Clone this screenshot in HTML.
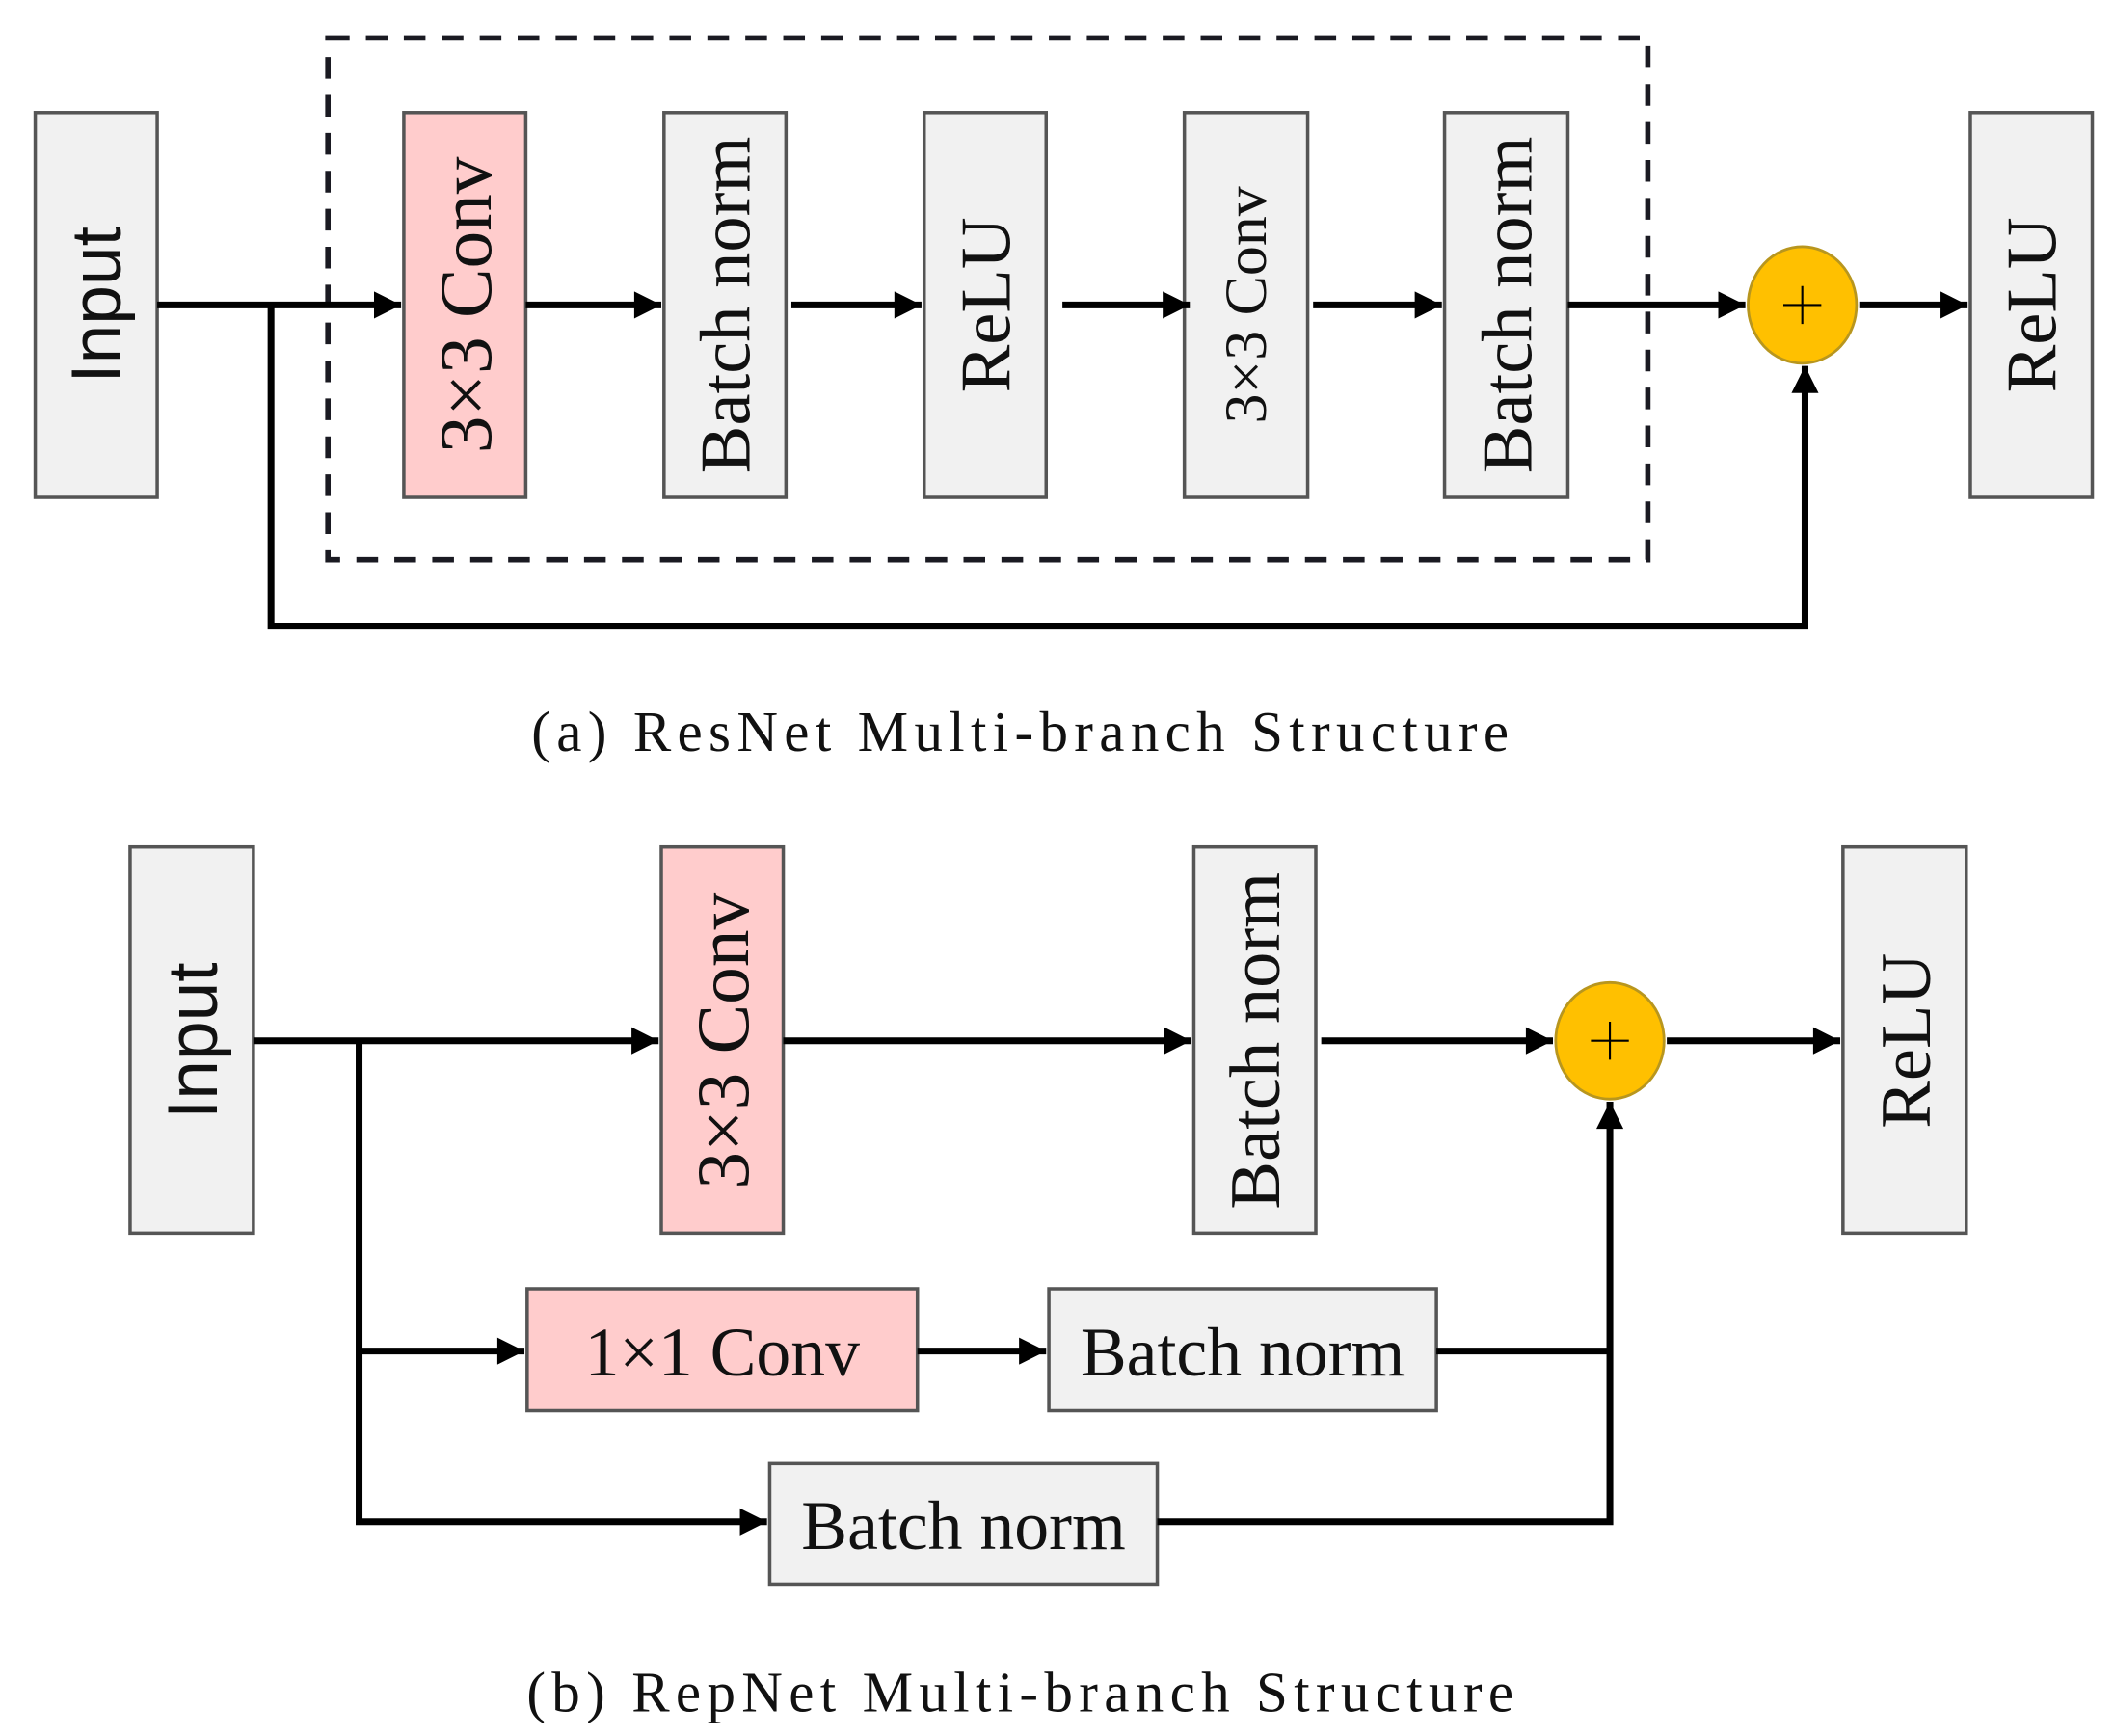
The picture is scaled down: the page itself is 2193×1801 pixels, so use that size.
<!DOCTYPE html>
<html><head><meta charset="utf-8"><style>html,body{margin:0;padding:0;background:#fff}svg{display:block}</style></head>
<body>
<svg width="2193" height="1801" viewBox="0 0 1560 1281" xmlns="http://www.w3.org/2000/svg">
<defs>
<marker id="a" viewBox="0 0 10 10" refX="10" refY="5" markerWidth="4.6" markerHeight="4" markerUnits="strokeWidth" orient="auto"><path d="M0,0 L10,5 L0,10 z" fill="#000"/></marker>
</defs>
<style>
.g{fill:#f1f1f1;stroke:#555;stroke-width:2.5}
.p{fill:#ffcccc;stroke:#555;stroke-width:2.5}
.l{stroke:#000;stroke-width:5;fill:none}
.s{font-family:"Liberation Serif",serif;fill:#111}
.ss{font-family:"Liberation Sans",sans-serif;fill:#111}
</style>
<!-- (a) -->
<rect x="242" y="28" width="974" height="385" fill="none" stroke="#1a1a22" stroke-width="4" stroke-dasharray="16,12"/>
<rect class="g" x="26" y="83" width="90" height="284"/>
<rect class="p" x="298" y="83" width="90" height="284"/>
<rect class="g" x="490" y="83" width="90" height="284"/>
<rect class="g" x="682" y="83" width="90" height="284"/>
<rect class="g" x="874" y="83" width="91" height="284"/>
<rect class="g" x="1066" y="83" width="91" height="284"/>
<rect class="g" x="1454" y="83" width="90" height="284"/>
<ellipse cx="1330" cy="225" rx="40" ry="43" fill="#ffc000" stroke="#b8961e" stroke-width="2"/>
<path d="M1316,225 H1344 M1330,211 V239" stroke="#000" stroke-width="1.5"/>
<g class="l">
<path d="M116,225 H296" marker-end="url(#a)"/>
<path d="M388,225 H488" marker-end="url(#a)"/>
<path d="M584,225 H680" marker-end="url(#a)"/>
<path d="M784,225 H878" marker-end="url(#a)"/>
<path d="M969,225 H1064" marker-end="url(#a)"/>
<path d="M1157,225 H1288" marker-end="url(#a)"/>
<path d="M1372,225 H1452" marker-end="url(#a)"/>
<path d="M200,225 V462 H1332 V270" marker-end="url(#a)"/>
</g>
<g text-anchor="middle">
<text class="ss" font-size="52" transform="translate(89,225) rotate(-90)">Input</text>
<text class="s" font-size="55" transform="translate(362,225) rotate(-90)">3×3 Conv</text>
<text class="s" font-size="53" transform="translate(553,225) rotate(-90)">Batch norm</text>
<text class="s" font-size="53" transform="translate(745,225) rotate(-90)">ReLU</text>
<text class="s" font-size="44" transform="translate(934,225) rotate(-90)">3×3 Conv</text>
<text class="s" font-size="53" transform="translate(1130,225) rotate(-90)">Batch norm</text>
<text class="s" font-size="53" transform="translate(1517,225) rotate(-90)">ReLU</text>
<text class="s" font-size="42" x="755" y="554" letter-spacing="4.5">(a) ResNet Multi-branch Structure</text>
</g>
<!-- (b) -->
<rect class="g" x="96" y="625" width="91" height="285"/>
<rect class="p" x="488" y="625" width="90" height="285"/>
<rect class="g" x="881" y="625" width="90" height="285"/>
<rect class="g" x="1360" y="625" width="91" height="285"/>
<rect class="p" x="389" y="951" width="288" height="90"/>
<rect class="g" x="774" y="951" width="286" height="90"/>
<rect class="g" x="568" y="1080" width="286" height="89"/>
<ellipse cx="1188" cy="768" rx="40" ry="43" fill="#ffc000" stroke="#b8961e" stroke-width="2"/>
<path d="M1174,768 H1202 M1188,754 V782" stroke="#000" stroke-width="1.5"/>
<g class="l">
<path d="M187,768 H486" marker-end="url(#a)"/>
<path d="M578,768 H879" marker-end="url(#a)"/>
<path d="M975,768 H1146" marker-end="url(#a)"/>
<path d="M1230,768 H1358" marker-end="url(#a)"/>
<path d="M265,768 V1123 H566" marker-end="url(#a)"/>
<path d="M265,997 H387" marker-end="url(#a)"/>
<path d="M677,997 H772" marker-end="url(#a)"/>
<path d="M1060,997 H1188"/>
<path d="M854,1123 H1188 V813" marker-end="url(#a)"/>
</g>
<g text-anchor="middle">
<text class="ss" font-size="52" transform="translate(160,768) rotate(-90)">Input</text>
<text class="s" font-size="55" transform="translate(552,768) rotate(-90)">3×3 Conv</text>
<text class="s" font-size="53" transform="translate(944,768) rotate(-90)">Batch norm</text>
<text class="s" font-size="53" transform="translate(1424,768) rotate(-90)">ReLU</text>
<text class="s" font-size="51" x="533" y="1015">1×1 Conv</text>
<text class="s" font-size="51" x="917" y="1015">Batch norm</text>
<text class="s" font-size="51" x="711" y="1143">Batch norm</text>
<text class="s" font-size="42" x="755" y="1263" letter-spacing="4.5">(b) RepNet Multi-branch Structure</text>
</g>
</svg>
</body></html>
